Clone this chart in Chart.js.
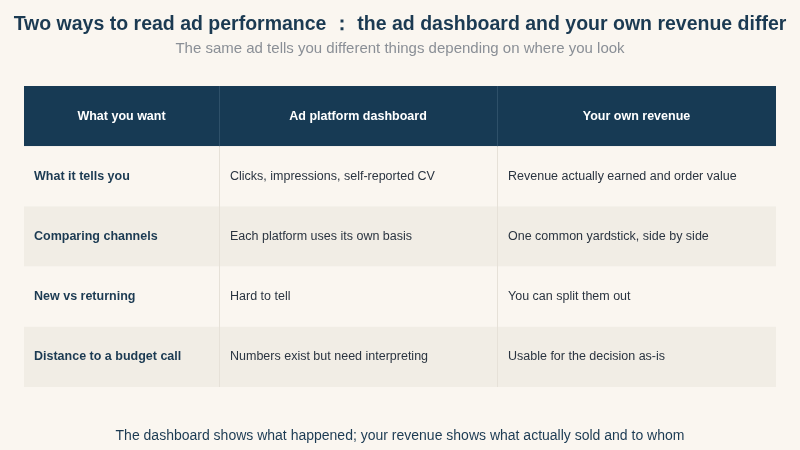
<!DOCTYPE html>
<html><head><meta charset="utf-8">
<script src="https://cdn.jsdelivr.net/npm/chart.js@4"></script>
<style>
html,body{margin:0;padding:0;background:#faf6f0;width:800px;height:450px;overflow:hidden;font-family:"Liberation Sans",Arial,sans-serif}
#wrap{position:absolute;left:0;top:0;width:800px;height:450px}
.t{position:absolute;left:0;width:800px;text-align:center;white-space:nowrap}
#title{top:10px;font-size:19.5px;font-weight:bold;color:#1b3a52}
#sub{top:39px;font-size:15px;color:#8a8f96}
#foot{top:427px;font-size:14px;color:#1b3a52}
</style></head><body>
<div id="wrap"><canvas id="c" width="800" height="450"></canvas></div>
<div class="t" id="title">Two ways to read ad performance ： the ad dashboard and your own revenue differ</div>
<div class="t" id="sub">The same ad tells you different things depending on where you look</div>
<div class="t" id="foot">The dashboard shows what happened; your revenue shows what actually sold and to whom</div>
<script>
const columns = ["What you want", "Ad platform dashboard", "Your own revenue"];
const rowLabels = ["What it tells you", "Comparing channels", "New vs returning", "Distance to a budget call"];
const dashboardValues = ["Clicks, impressions, self-reported CV", "Each platform uses its own basis", "Hard to tell", "Numbers exist but need interpreting"];
const revenueValues = ["Revenue actually earned and order value", "One common yardstick, side by side", "You can split them out", "Usable for the decision as-is"];
const colEdges = [0, 0.778, 1.887, 3];

const tablePlugin = {
  id: 'table',
  beforeDatasetsDraw(chart) {
    const ctx = chart.ctx, x = chart.scales.x, y = chart.scales.y;
    const nRows = rowLabels.length + 1;
    const X = i => x.getPixelForValue(colEdges[i]);
    const Y = r => y.getPixelForValue(r);
    ctx.save();
    // header
    ctx.fillStyle = '#173a54';
    ctx.fillRect(X(0), Y(0), X(3) - X(0), Y(1) - Y(0));
    for (let r = 1; r < nRows; r++) {
      ctx.fillStyle = (r % 2 === 0) ? '#f1ede5' : '#faf6f0';
      ctx.fillRect(X(0), Y(r), X(3) - X(0), Y(r + 1) - Y(r));
    }
    // grid lines
    ctx.strokeStyle = '#e6e1d8'; ctx.lineWidth = 1;
    for (let i = 1; i < 3; i++) {
      ctx.beginPath(); ctx.moveTo(Math.round(X(i)) + 0.5, Y(1)); ctx.lineTo(Math.round(X(i)) + 0.5, Y(nRows)); ctx.stroke();
    }
    ctx.strokeStyle = '#2e5069';
    for (let i = 1; i < 3; i++) {
      ctx.beginPath(); ctx.moveTo(Math.round(X(i)) + 0.5, Y(0)); ctx.lineTo(Math.round(X(i)) + 0.5, Y(1)); ctx.stroke();
    }
    ctx.textBaseline = 'middle';
    ctx.font = 'bold 12.5px "Liberation Sans", Arial, sans-serif';
    ctx.fillStyle = '#ffffff'; ctx.textAlign = 'center';
    columns.forEach((c, i) => ctx.fillText(c, (X(i) + X(i + 1)) / 2, (Y(0) + Y(1)) / 2));
    ctx.textAlign = 'left';
    rowLabels.forEach((lab, k) => {
      const cy = (Y(k + 1) + Y(k + 2)) / 2;
      ctx.font = 'bold 12.5px "Liberation Sans", Arial, sans-serif'; ctx.fillStyle = '#1b3a52';
      ctx.fillText(lab, X(0) + 10, cy);
      ctx.font = '12.5px "Liberation Sans", Arial, sans-serif'; ctx.fillStyle = '#2a3440';
      ctx.fillText(dashboardValues[k], X(1) + 11, cy);
      ctx.fillText(revenueValues[k], X(2) + 11, cy);
    });
    ctx.restore();
  }
};

new Chart(document.getElementById('c'), {
  type: 'scatter',
  data: { datasets: [{ data: [] }] },
  options: {
    responsive: false, animation: false, devicePixelRatio: 1,
    layout: { padding: { left: 24, right: 24, top: 86, bottom: 63 } },
    plugins: { legend: { display: false }, tooltip: { enabled: false } },
    scales: {
      x: { type: 'linear', min: 0, max: 3, display: false },
      y: { type: 'linear', min: 0, max: rowLabels.length + 1, reverse: true, display: false }
    }
  },
  plugins: [tablePlugin]
});
</script>
</body></html>
